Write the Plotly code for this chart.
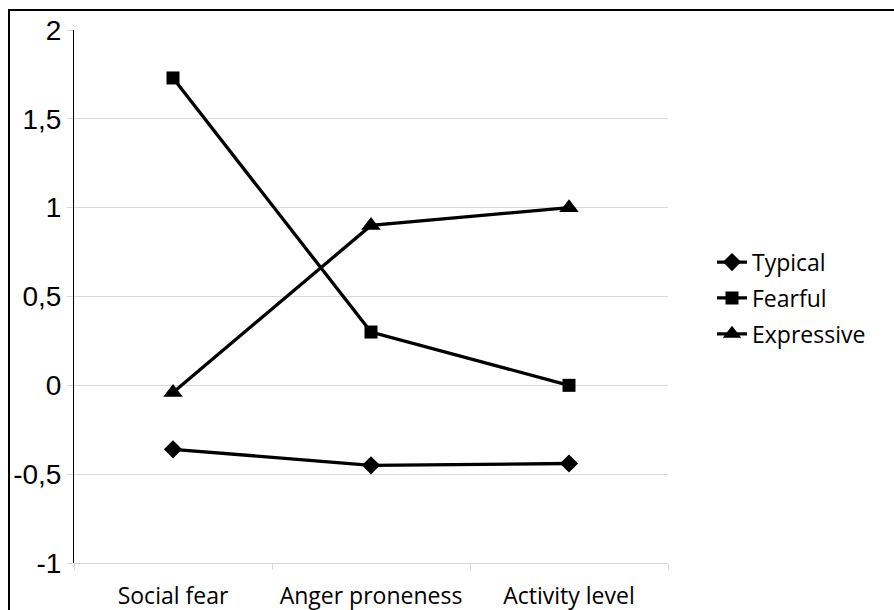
import plotly.graph_objects as go

categories = ["Social fear", "Anger proneness", "Activity level"]
typical = [-0.36, -0.45, -0.44]
fearful = [1.73, 0.30, 0.0]
expressive = [-0.04, 0.90, 1.0]
series_names = ["Typical", "Fearful", "Expressive"]
y_ticks = [-1, -0.5, 0, 0.5, 1, 1.5, 2]
y_tick_labels = ["-1", "-0,5", "0", "0,5", "1", "1,5", "2"]

symbols = ["diamond", "square", "triangle-up"]
sizes = [14, 13, 17]

fig = go.Figure()
for name, vals, sym, sz in zip(series_names, [typical, fearful, expressive], symbols, sizes):
    fig.add_trace(go.Scatter(
        x=categories, y=vals, name=name, legendgroup=name,
        mode="lines+markers",
        line=dict(color="black", width=3.3),
        marker=dict(symbol=sym, size=sz, color="black"),
    ))

grid = "#D9D9D9"
fig.update_layout(
    width=894, height=610,
    margin=dict(l=74, r=226, t=29.5, b=47.3),
    paper_bgcolor="white", plot_bgcolor="white",
    separators=",.",
    showlegend=True,
    legend=dict(
        x=(712 - 74) / 594, y=0.497, xanchor="left", yanchor="middle",
        font=dict(family="Open Sans", size=23, color="black"),
        tracegroupgap=3,
        bgcolor="rgba(0,0,0,0)",
    ),
    xaxis=dict(
        type="category", range=[-0.5, 2.5], automargin=False,
        showgrid=False, showline=True, linecolor=grid, linewidth=1,
        ticks="outside", tickson="boundaries", ticklen=6, tickcolor=grid,
        tickfont=dict(family="Open Sans", size=23, color="black"),
        ticklabelstandoff=12,
    ),
    yaxis=dict(
        range=[-1, 2], tickvals=y_ticks, ticktext=y_tick_labels, automargin=False,
        showgrid=True, gridcolor=grid, gridwidth=1,
        showline=True, linecolor="black", linewidth=1,
        ticks="outside", ticklen=6, tickcolor=grid,
        tickfont=dict(family="Liberation Sans", size=28, color="black"),
        ticklabelstandoff=0,
        zeroline=False,
    ),
    shapes=[dict(
        type="rect", xref="paper", yref="paper",
        x0=(9 - 74) / 594, x1=(905 - 74) / 594,
        y0=(562.7 - 620) / 533.2, y1=(562.7 - 9.5) / 533.2,
        line=dict(color="black", width=2), fillcolor="rgba(0,0,0,0)",
        layer="below",
    )],
)

fig.write_html("out.html")
